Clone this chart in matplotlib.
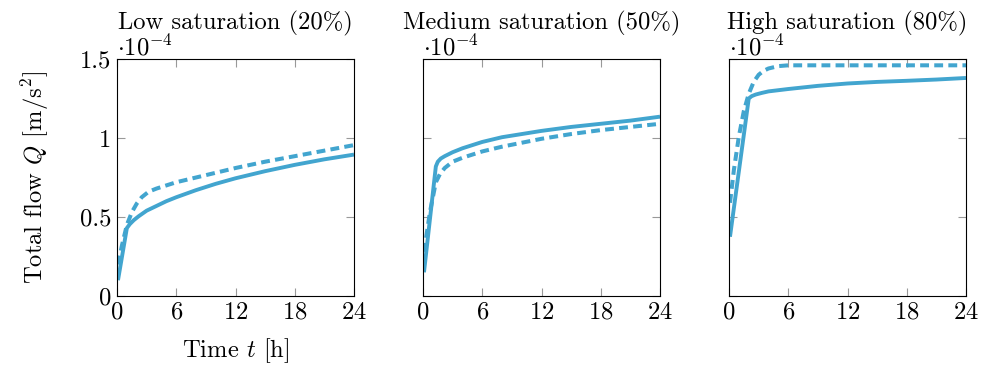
import matplotlib
matplotlib.use('Agg')
import matplotlib.pyplot as plt
import numpy as np

plt.rcParams['font.family'] = 'cmr10'
plt.rcParams['mathtext.fontset'] = 'cm'
plt.rcParams['axes.formatter.use_mathtext'] = True

TITLES = ['Low saturation (20%)', 'Medium saturation (50%)', 'High saturation (80%)']

# Tiempo [h] y caudal total [1e-4 m/s^2]
t_low_solid = [0.1, 1.0, 1.3, 1.7, 2.2, 3, 4, 5, 6, 8, 10, 12, 15, 18, 21, 24]
q_low_solid = [0.10, 0.43, 0.455, 0.48, 0.505, 0.54, 0.57, 0.60, 0.625, 0.67, 0.71, 0.745, 0.79, 0.83, 0.865, 0.895]
t_low_dash = [0.1, 0.5, 1.0, 1.5, 2.0, 2.5, 3.2, 4, 5, 6, 8, 10, 12, 15, 18, 21, 24]
q_low_dash = [0.20, 0.32, 0.45, 0.53, 0.585, 0.625, 0.66, 0.68, 0.70, 0.72, 0.75, 0.78, 0.81, 0.85, 0.885, 0.92, 0.955]

t_med_solid = [0.1, 1.3, 1.5, 1.8, 2.2, 3, 4, 5, 6, 8, 10, 12, 15, 18, 21, 24]
q_med_solid = [0.15, 0.82, 0.85, 0.87, 0.885, 0.91, 0.935, 0.955, 0.975, 1.005, 1.025, 1.045, 1.07, 1.09, 1.11, 1.135]
t_med_dash = [0.1, 0.7, 1.3, 1.7, 2.2, 3, 4, 5, 6, 8, 10, 12, 15, 18, 21, 24]
q_med_dash = [0.28, 0.53, 0.72, 0.77, 0.81, 0.85, 0.875, 0.895, 0.915, 0.945, 0.97, 0.995, 1.025, 1.05, 1.07, 1.09]

t_high_solid = [0.1, 2.0, 2.3, 2.7, 3.3, 4, 6, 9, 12, 15, 18, 21, 24]
q_high_solid = [0.375, 1.25, 1.265, 1.275, 1.285, 1.295, 1.31, 1.33, 1.345, 1.355, 1.362, 1.37, 1.38]
t_high_dash = [0.1, 0.5, 1.0, 1.5, 2.0, 2.5, 3.0, 3.5, 4.0, 5.0, 6, 12, 18, 24]
q_high_dash = [0.59, 0.80, 1.01, 1.17, 1.28, 1.355, 1.40, 1.425, 1.44, 1.455, 1.46, 1.46, 1.46, 1.46]

SOLID = [(t_low_solid, q_low_solid), (t_med_solid, q_med_solid), (t_high_solid, q_high_solid)]
DASHED = [(t_low_dash, q_low_dash), (t_med_dash, q_med_dash), (t_high_dash, q_high_dash)]

color = '#42a5cf'
fs = 17.7
fig = plt.figure(figsize=(9.84, 3.67), dpi=100)

lefts = [117, 423, 729]
for i, left in enumerate(lefts):
    ax = fig.add_axes([left / 984, 71 / 367, 237 / 984, 237 / 367])
    ts, qs = SOLID[i]
    td, qd = DASHED[i]
    ax.plot(ts, qs, color=color, lw=2.8, solid_capstyle='butt', solid_joinstyle='round')
    ax.plot(td, qd, color=color, lw=2.9, dashes=(2.2, 1.3), dash_capstyle='butt')
    ax.set_xlim(0, 24)
    ax.set_ylim(0, 1.5)
    ax.set_xticks([0, 6, 12, 18, 24])
    ax.set_yticks([0, 0.5, 1, 1.5])
    ax.set_yticklabels(['0', '0.5', '1', '1.5'])
    ax.tick_params(direction='in', length=6, color='#999999', labelsize=fs,
                   top=True, right=True, pad=4)
    if i > 0:
        ax.set_yticklabels([])
    for sp in ax.spines.values():
        sp.set_linewidth(0.8)
    ax.set_title(TITLES[i], fontsize=fs, pad=21)
    ax.text(0.0, 0.995, r'$\cdot 10^{-4}$', transform=ax.transAxes, fontsize=fs,
            ha='left', va='bottom')
    if i == 0:
        ax.set_xlabel('Time $t$ [h]', fontsize=fs, labelpad=9)
        ax.set_ylabel('Total flow $Q$ [m/s$^2$]', fontsize=fs, labelpad=21)

fig.savefig('out.png', dpi=100)
